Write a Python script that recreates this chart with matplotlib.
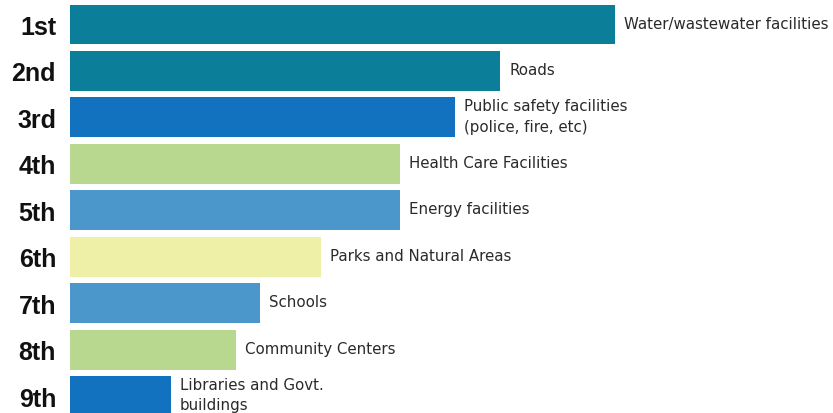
import matplotlib.pyplot as plt

# Ranked infrastructure priorities (bar lengths in relative units)
ranks = ["1st", "2nd", "3rd", "4th", "5th", "6th", "7th", "8th", "9th"]
categories = [
    "Water/wastewater facilities",
    "Roads",
    "Public safety facilities\n(police, fire, etc)",
    "Health Care Facilities",
    "Energy facilities",
    "Parks and Natural Areas",
    "Schools",
    "Community Centers",
    "Libraries and Govt.\nbuildings",
]
scores = [545, 430, 385, 330, 330, 251, 190, 166, 101]
colors = ["#0b7e99", "#0b7e99", "#1372c0", "#b8d88f", "#4b97cc",
          "#eef0a7", "#4b97cc", "#b8d88f", "#1372c0"]


def main():
    fig = plt.figure(figsize=(8.33, 4.14), dpi=100)
    ax = fig.add_axes([70 / 833, 0, 763 / 833, 1])

    ypos = list(range(len(ranks)))
    ax.barh(ypos, scores, height=0.86, color=colors)

    for y, val, label in zip(ypos, scores, categories):
        ax.annotate(label, (val, y), xytext=(6.5, 1), textcoords="offset points",
                    va="center", ha="left", fontsize=10.8, color="#2a2a2a",
                    family="DejaVu Sans", linespacing=1.45)

    ax.set_xlim(0, 763)
    ax.set_ylim(8.366, -0.549)
    ax.set_yticks(ypos, ranks)
    ax.tick_params(axis="y", length=0, pad=10)
    for t in ax.get_yticklabels():
        t.set_fontsize(18)
        t.set_fontweight("bold")
        t.set_family("Liberation Sans")
        t.set_color("#111111")
    ax.set_xticks([])
    for s in ax.spines.values():
        s.set_visible(False)

    fig.savefig("out.png", dpi=100)


if __name__ == "__main__":
    main()
